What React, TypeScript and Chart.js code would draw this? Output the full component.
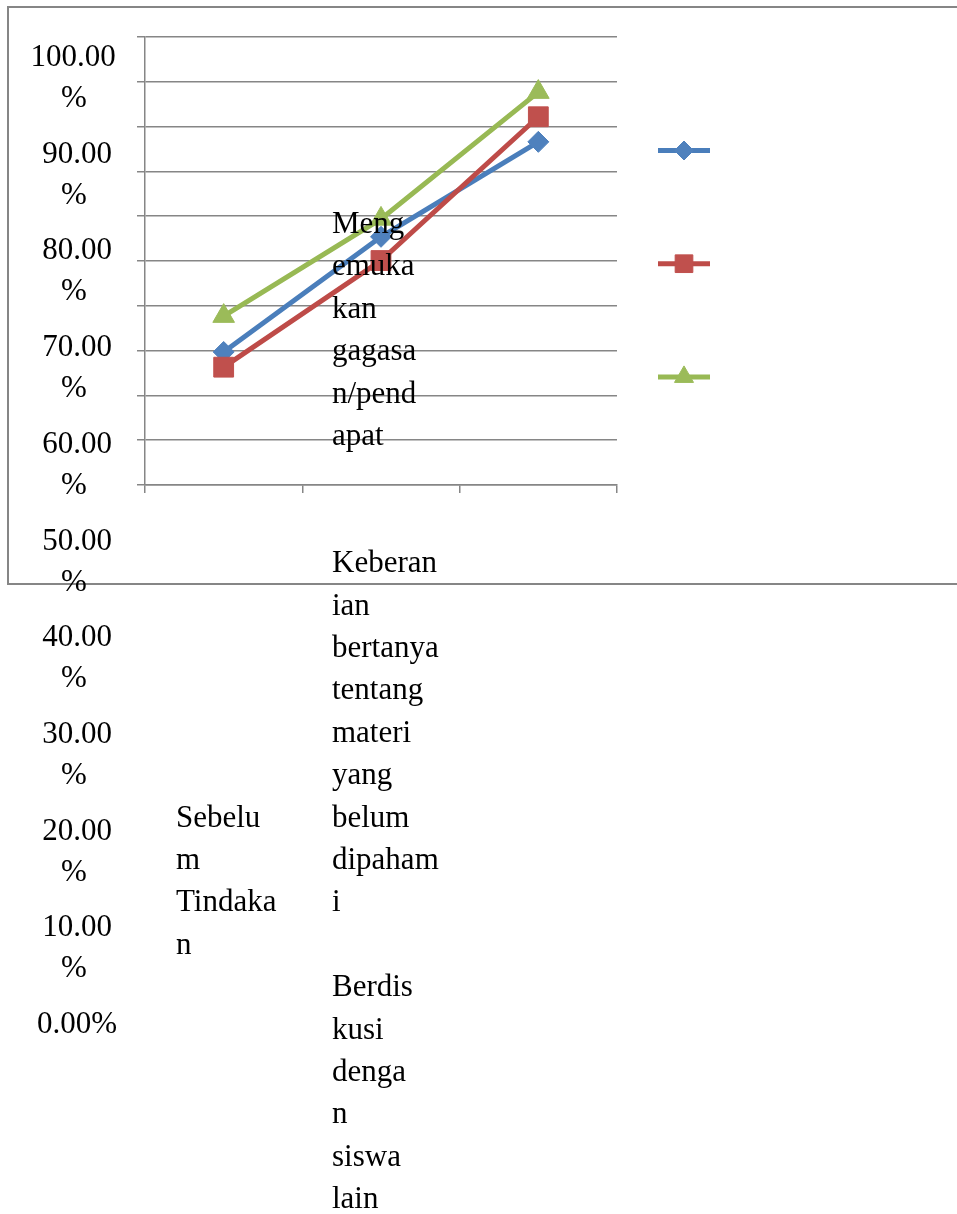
import React, { useEffect, useRef } from "react";
import { Chart, registerables } from "chart.js";
import { drawPoint } from "chart.js/helpers";

Chart.register(...registerables);

// ---- data ----
const categories = ["Sebelum Tindakan", "Siklus I", "Siklus II"];
const seriesNames = [
  "Mengemukakan gagasan/pendapat",
  "Keberanian bertanya tentang materi yang belum dipahami",
  "Berdiskusi dengan siswa lain",
];
const gagasanValues = [29.7, 55.4, 76.6];
const bertanyaValues = [26.3, 50.1, 82.2];
const diskusiValues = [37.7, 59.4, 87.7];
const yTickLabels = [
  "100.00%", "90.00%", "80.00%", "70.00%", "60.00%", "50.00%",
  "40.00%", "30.00%", "20.00%", "10.00%", "0.00%",
];
// text as it wraps in the narrow label boxes
const seriesNameLines = [
  ["Meng", "emuka", "kan", "gagasa", "n/pend", "apat"],
  ["Keberan", "ian", "bertanya", "tentang", "materi", "yang", "belum", "dipaham", "i"],
  ["Berdis", "kusi", "denga", "n", "siswa", "lain"],
];
const categoryLines = [["Sebelu", "m", "Tindaka", "n"]];

const COLORS = {
  line: ["#4A7EBB", "#BE4B48", "#98B954"],
  fill: ["#4F81BD", "#C0504D", "#9BBB59"],
};
const POINT_STYLES = ["rectRot", "rect", "triangle"];
const POINT_RADII = [10.5, 14, 12.5];
const LEGEND_RADII = [9.5, 12.5, 11];
const GRID = "#868686";
const FONT = "31px 'Liberation Serif', 'Times New Roman', serif";

const W = 957;
const H = 1214;

const overlayPlugin = {
  id: "overlay",
  afterDraw(chart: any) {
    const ctx = chart.ctx as CanvasRenderingContext2D;
    ctx.save();
    // frame
    ctx.strokeStyle = GRID;
    ctx.lineWidth = 2;
    ctx.strokeRect(8, 7, 1000, 577);

    // legend markers
    for (let i = 0; i < 3; i++) {
      const y = 150.5 + 113.2 * i;
      ctx.strokeStyle = COLORS.line[i];
      ctx.lineWidth = 5;
      ctx.beginPath();
      ctx.moveTo(658, y);
      ctx.lineTo(710, y);
      ctx.stroke();
      ctx.fillStyle = COLORS.fill[i];
      ctx.strokeStyle = COLORS.fill[i];
      ctx.lineWidth = 1;
      drawPoint(ctx, { pointStyle: POINT_STYLES[i] as any, radius: LEGEND_RADII[i], borderWidth: 1, rotation: 0 } as any, 684, y);
    }

    ctx.font = FONT;
    ctx.fillStyle = "#000";
    ctx.textBaseline = "alphabetic";

    // y tick labels (wrapped)
    ctx.textAlign = "center";
    yTickLabels.forEach((lab, k) => {
      const base = 66 + 96.7 * k;
      const lines = ctx.measureText(lab).width > 85 ? [lab.slice(0, -1), "%"] : [lab];
      const cx = k === 0 ? 73 : 77;
      lines.forEach((t, j) => ctx.fillText(t, j === 0 ? cx : 74, base + 41 * j));
    });

    // series names column & category label
    ctx.textAlign = "left";
    const step = 42.4;
    const base0 = 233;
    const starts = [0, 8, 18];
    seriesNameLines.forEach((lines, s) => {
      lines.forEach((t, j) => ctx.fillText(t, 332, base0 + step * (starts[s] + j)));
    });
    categoryLines[0].forEach((t, j) => ctx.fillText(t, 176, base0 + step * (14 + j)));
    ctx.restore();
  },
};

export default function App() {
  const ref = useRef<HTMLCanvasElement>(null);
  useEffect(() => {
    if (!ref.current) return;
    const valueSets = [gagasanValues, bertanyaValues, diskusiValues];
    const chart = new Chart(ref.current, {
      type: "line",
      data: {
        labels: categories,
        datasets: valueSets.map((vals, i) => ({
          label: seriesNames[i],
          data: vals,
          borderColor: COLORS.line[i],
          backgroundColor: COLORS.fill[i],
          pointBackgroundColor: COLORS.fill[i],
          pointBorderColor: COLORS.fill[i],
          pointStyle: POINT_STYLES[i] as any,
          pointRadius: POINT_RADII[i],
          pointBorderWidth: 1,
          borderWidth: 5,
          tension: 0,
          order: 3 - i,
        })),
      },
      options: {
        responsive: false,
        animation: false,
        layout: { padding: { left: 137, right: W - 617, top: 37, bottom: H - 485 - 8 } },
        scales: {
          x: {
            type: "category",
            offset: true,
            grid: {
              display: true,
              drawOnChartArea: false,
              drawTicks: true,
              tickLength: 8,
              offset: true,
              color: GRID,
              lineWidth: 1.5,
            },
            border: { display: true, color: GRID, width: 1.5 },
            ticks: { display: false },
            afterFit: (s: any) => { s.height = 8; },
          },
          y: {
            min: 0,
            max: 100,
            ticks: { stepSize: 10, display: false },
            grid: { color: GRID, lineWidth: 1.5, drawTicks: true, tickLength: 8 },
            border: { display: true, color: GRID, width: 1.5 },
            afterFit: (s: any) => { s.width = 8; },
          },
        },
        plugins: { legend: { display: false }, tooltip: { enabled: false } },
      },
      plugins: [overlayPlugin],
    });
    return () => chart.destroy();
  }, []);
  return (
    <div style={{ position: "fixed", left: 0, top: 0, width: W, height: H, background: "#fff" }}>
      <canvas ref={ref} width={W} height={H} style={{ width: W, height: H, display: "block" }} />
    </div>
  );
}
